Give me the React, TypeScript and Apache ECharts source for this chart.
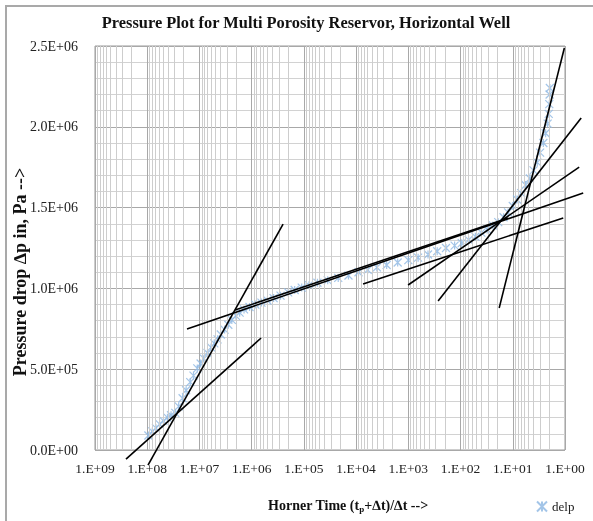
import React, { useEffect, useRef } from "react";
import * as echarts from "echarts";

const SERIF = "'Liberation Serif', 'Times New Roman', serif";

const titleText = "Pressure Plot for Multi Porosity Reservor, Horizontal Well";
const yAxisTitle = "Pressure drop \u2206p in, Pa -->";
const seriesName = "delp";

const xTickLabels = ["1.E+09", "1.E+08", "1.E+07", "1.E+06", "1.E+05", "1.E+04", "1.E+03", "1.E+02", "1.E+01", "1.E+00"];
const yTickLabels = ["0.0E+00", "5.0E+05", "1.0E+06", "1.5E+06", "2.0E+06", "2.5E+06"];

// Horner time (x) values of the measured points
const hornerTime = [
  9.5e7, 8.0e7, 6.8e7, 5.8e7, 4.9e7, 4.1e7, 3.5e7, 2.9e7, 2.5e7, 2.1e7,
  1.8e7, 1.5e7, 1.3e7, 1.1e7, 9.5e6, 8.2e6, 7.0e6, 6.0e6, 5.2e6, 4.5e6,
  3.9e6, 3.3e6, 2.8e6, 2.4e6, 2.0e6, 1.7e6, 1.4e6, 1.1e6, 8.5e5, 6.5e5,
  5.0e5, 3.8e5, 2.8e5, 2.0e5, 1.5e5, 1.1e5, 8.0e4, 5.5e4, 3.5e4, 2.2e4,
  1.4e4, 9.0e3, 6.0e3, 4.0e3, 2.6e3, 1.6e3, 1.0e3, 650, 420, 280,
  190, 130, 95, 70, 52, 40, 31, 24, 19, 15,
  12.3, 10, 8.3, 6.9, 5.7, 4.7, 4.0, 3.4, 3.0, 2.6,
  2.35, 2.15, 2.05, 2.0, 1.97, 1.95,
];
// Pressure drop (Pa) of the measured points
const pressureDrop = [
  9.0e4, 1.15e5, 1.35e5, 1.6e5, 1.8e5, 2.0e5, 2.15e5, 2.3e5, 2.7e5, 3.2e5,
  3.7e5, 4.2e5, 4.6e5, 5.05e5, 5.35e5, 5.65e5, 6.0e5, 6.35e5, 6.6e5, 6.85e5,
  7.15e5, 7.45e5, 7.75e5, 8.05e5, 8.3e5, 8.5e5, 8.7e5, 8.85e5, 9.0e5, 9.12e5,
  9.25e5, 9.4e5, 9.55e5, 9.75e5, 9.9e5, 1.005e6, 1.02e6, 1.035e6, 1.05e6, 1.065e6,
  1.08e6, 1.10e6, 1.115e6, 1.13e6, 1.145e6, 1.16e6, 1.175e6, 1.19e6, 1.21e6, 1.23e6,
  1.25e6, 1.265e6, 1.28e6, 1.30e6, 1.32e6, 1.345e6, 1.365e6, 1.39e6, 1.41e6, 1.44e6,
  1.47e6, 1.51e6, 1.55e6, 1.59e6, 1.64e6, 1.68e6, 1.73e6, 1.78e6, 1.84e6, 1.90e6,
  1.96e6, 2.02e6, 2.08e6, 2.14e6, 2.20e6, 2.24e6,
];

// straight-line fits drawn on the plot: [Horner time, pressure drop] end points
const lineA = [[9.66e7, -9.3e4], [2.5e5, 1.398e6]];
const lineB = [[2.55e8, -5.6e4], [6.6e5, 6.93e5]];
const lineC = [[1.73e7, 7.49e5], [0.448, 1.59e6]];
const lineH = [[2.08e6, 8.66e5], [12.2, 1.436e6]];
const lineG = [[7.35e3, 1.027e6], [1.08, 1.436e6]];
const lineF = [[1.01e3, 1.021e6], [0.535, 1.751e6]];
const lineE = [[269, 9.22e5], [0.49, 2.054e6]];
const lineD = [[18.2, 8.79e5], [1.03, 2.488e6]];
const fitLines = [lineA, lineB, lineC, lineH, lineG, lineF, lineE, lineD];

// minor log grid multipliers and decades
const minorMultipliers = [2, 3, 4, 5, 6, 7, 8, 9];
const decades = [0, 1, 2, 3, 4, 5, 6, 7, 8];

const MARKER = "path://M0,0L10,10M10,0L0,10M5,0L5,10";

export default function App() {
  const ref = useRef<HTMLDivElement>(null);
  useEffect(() => {
    if (!ref.current) return;
    const chart = echarts.init(ref.current, null, { renderer: "svg" });
    const points = hornerTime.map((x, i) => [x, pressureDrop[i]]);
    const minorX: any[] = [];
    decades.forEach((d) => minorMultipliers.forEach((m) => minorX.push({ xAxis: m * Math.pow(10, d) })));
    // each fit line as [log10 x1, y1, log10 x2, y2] on the hidden exponent axis
    const fitData = fitLines.map((l) => [Math.log10(l[0][0]), l[0][1], Math.log10(l[1][0]), l[1][1]]);

    const option: any = {
      animation: false,
      textStyle: { fontFamily: SERIF },
      grid: {
        left: 95,
        right: 28,
        top: 46,
        bottom: 71,
        show: true,
        borderColor: "#9a9a9a",
        borderWidth: 1,
      },
      legend: {
        data: [seriesName],
        left: 531,
        top: 495,
        itemWidth: 10,
        itemHeight: 10,
        itemGap: 4,
        textStyle: { fontFamily: SERIF, fontSize: 13, color: "#222" },
      },
      xAxis: [
        {
          type: "log",
          logBase: 10,
          min: 1,
          max: 1e9,
          inverse: true,
          splitNumber: 9,
          axisLine: { show: false },
          axisTick: { show: false },
          axisLabel: {
            fontFamily: SERIF,
            fontSize: 13.5,
            color: "#222",
            margin: 11,
            formatter: (v: number) => xTickLabels[9 - Math.round(Math.log10(v))] ?? "",
          },
          splitLine: { show: true, lineStyle: { color: "#a8a8a8", width: 1 } },
        },
        {
          // same decades as a linear exponent axis, so the fitted lines may run past the frame
          type: "value",
          min: 0,
          max: 9,
          inverse: true,
          show: false,
          splitLine: { show: false },
        },
      ],
      yAxis: {
        type: "value",
        min: 0,
        max: 2.5e6,
        interval: 5e5,
        axisLine: { show: false },
        axisTick: { show: false },
        axisLabel: {
          fontFamily: SERIF,
          fontSize: 14,
          color: "#222",
          margin: 17,
          formatter: (v: number) => yTickLabels[Math.round(v / 5e5)] ?? "",
        },
        splitLine: { show: true, lineStyle: { color: "#a8a8a8", width: 1 } },
        minorTick: { show: false, splitNumber: 5 },
        minorSplitLine: { show: true, lineStyle: { color: "#d2d2d2", width: 1 } },
      },
      graphic: [
        {
          type: "rect",
          silent: true,
          shape: { x: 6, y: 6, width: 620, height: 540 },
          style: { fill: "none", stroke: "#a9a9a9", lineWidth: 2 },
        },
        {
          type: "text",
          x: 306,
          y: 22,
          style: {
            text: titleText,
            font: `bold 16.4px ${SERIF}`,
            fill: "#111",
            textAlign: "center",
            textVerticalAlign: "middle",
          },
        },
        {
          type: "text",
          x: 20,
          y: 272,
          rotation: Math.PI / 2,
          style: {
            text: yAxisTitle,
            font: `bold 18px ${SERIF}`,
            fill: "#111",
            textAlign: "center",
            textVerticalAlign: "middle",
          },
        },
        {
          type: "text",
          x: 348,
          y: 505,
          style: {
            text: "{a|Horner Time (t}{s|p}{a|+\u2206t)/\u2206t -->}",
            textAlign: "center",
            textVerticalAlign: "middle",
            rich: {
              a: { fontFamily: SERIF, fontSize: 14, fontWeight: "bold", fill: "#111" },
              s: { fontFamily: SERIF, fontSize: 9, fontWeight: "bold", fill: "#111", padding: [8, 0, 0, 0] },
            },
          },
        },
      ],
      series: [
        {
          name: "minorGrid",
          type: "line",
          data: [],
          silent: true,
          z: 0,
          markLine: {
            silent: true,
            symbol: ["none", "none"],
            label: { show: false },
            lineStyle: { color: "#cdcdcd", width: 1, type: "solid" },
            emphasis: { disabled: true },
            data: minorX,
          },
        },
        {
          name: seriesName,
          type: "scatter",
          data: points,
          symbol: MARKER,
          symbolSize: 8,
          itemStyle: { color: "transparent", borderColor: "#93bbe4", borderWidth: 1.2, opacity: 0.85 },
          z: 3,
        },
        {
          name: "fits",
          type: "custom",
          xAxisIndex: 1,
          clip: false,
          silent: true,
          z: 5,
          data: fitData,
          encode: { x: [0, 2], y: [1, 3] },
          renderItem: (params: any, api: any) => {
            const p1 = api.coord([api.value(0), api.value(1)]);
            const p2 = api.coord([api.value(2), api.value(3)]);
            return {
              type: "line",
              shape: { x1: p1[0], y1: p1[1], x2: p2[0], y2: p2[1] },
              style: { stroke: "#000", lineWidth: 1.6, fill: "none" },
            };
          },
        },
      ],
    };
    chart.setOption(option);
    return () => chart.dispose();
  }, []);
  return <div ref={ref} style={{ position: "fixed", left: 0, top: 0, width: 593, height: 521 }} />;
}
